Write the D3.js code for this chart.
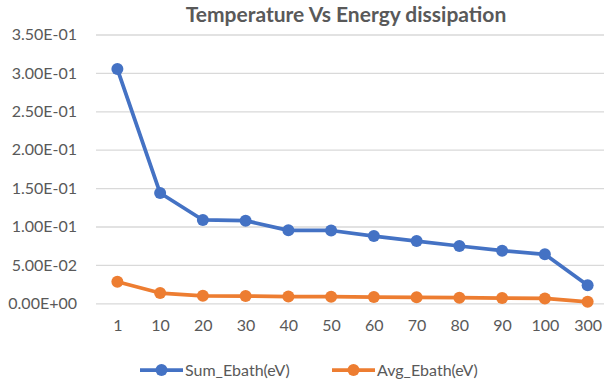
<!DOCTYPE html>
<html>
<head>
<meta charset="utf-8">
<script src="https://cdn.jsdelivr.net/npm/d3@7"></script>
<style>
  html, body { margin: 0; padding: 0; background: #fff; }
  svg { display: block; font-family: Lato, "Open Sans", sans-serif; }
</style>
</head>
<body>
<svg id="chart" width="604" height="382"></svg>
<script>
// Temperature categories (x axis)
const temperatures = ["1", "10", "20", "30", "40", "50", "60", "70", "80", "90", "100", "300"];
// Sum of bath energy per temperature (eV)
const sumEbath = [0.305, 0.1436, 0.1085, 0.1076, 0.0950, 0.0948, 0.0876, 0.0811, 0.0746, 0.0685, 0.0638, 0.0234];
// Average bath energy per temperature (eV)
const avgEbath = [0.0281, 0.0134, 0.0097, 0.0095, 0.0088, 0.0086, 0.0082, 0.0078, 0.0073, 0.0068, 0.0064, 0.0019];
// Y axis tick values
const yTicks = [0, 0.05, 0.10, 0.15, 0.20, 0.25, 0.30, 0.35];

const seriesList = [
  { name: "Sum_Ebath(eV)", values: sumEbath, color: "#4472C4" },
  { name: "Avg_Ebath(eV)", values: avgEbath, color: "#ED7D31" }
];

const svg = d3.select("#chart");
const textColor = "#595959";

const x = d3.scalePoint().domain(temperatures).range([96, 609]).padding(0.5);
const y = d3.scaleLinear().domain([0, 0.35]).range([303.3, 34.5]);

// Excel-style scientific label, e.g. 3.50E-01
function sci(v) {
  if (v === 0) return "0.00E+00";
  const e = Math.floor(Math.log10(Math.abs(v)) + 1e-9);
  const m = v / Math.pow(10, e);
  const sign = e < 0 ? "-" : "+";
  return m.toFixed(2) + "E" + sign + String(Math.abs(e)).padStart(2, "0");
}

// Title
svg.append("text")
  .attr("x", 346).attr("y", 22)
  .attr("text-anchor", "middle")
  .attr("font-size", 21).attr("font-weight", "bold")
  .attr("fill", textColor)
  .text("Temperature Vs Energy dissipation");

// Horizontal gridlines + y labels
const yAxis = d3.axisLeft(y).tickValues(yTicks).tickFormat(sci).tickSize(-(609 - 96)).tickPadding(19);
const gy = svg.append("g").attr("transform", "translate(96,0)").call(yAxis);
gy.select(".domain").remove();
gy.selectAll(".tick line").attr("stroke", "#d9d9d9").attr("stroke-width", 1.3);
gy.selectAll(".tick text").attr("fill", textColor).attr("font-size", 16).attr("font-family", "Lato, sans-serif");

// X labels
const xAxis = d3.axisBottom(x).tickSize(0).tickPadding(16);
const gx = svg.append("g").attr("transform", "translate(0,303.3)").call(xAxis);
gx.select(".domain").remove();
gx.selectAll(".tick text").attr("fill", textColor).attr("font-size", 16).attr("font-family", "Lato, sans-serif");

// Series lines and markers
const line = d3.line().x((d, i) => x(temperatures[i])).y(d => y(d));
seriesList.forEach(s => {
  svg.append("path")
    .datum(s.values)
    .attr("d", line)
    .attr("fill", "none")
    .attr("stroke", s.color)
    .attr("stroke-width", 3.75)
    .attr("stroke-linejoin", "round");
  svg.append("g").selectAll("circle")
    .data(s.values)
    .join("circle")
    .attr("cx", (d, i) => x(temperatures[i]))
    .attr("cy", d => y(d))
    .attr("r", 6)
    .attr("fill", s.color);
});

// Legend
const legendPos = [140, 332];
const legend = svg.append("g").attr("transform", "translate(0,370)");
seriesList.forEach((s, i) => {
  const g = legend.append("g").attr("transform", `translate(${legendPos[i]},0)`);
  g.append("line").attr("x1", 0).attr("x2", 43).attr("y1", 0).attr("y2", 0)
    .attr("stroke", s.color).attr("stroke-width", 3.75);
  g.append("circle").attr("cx", 21.5).attr("cy", 0).attr("r", 6).attr("fill", s.color);
  g.append("text").attr("x", 45).attr("y", 0).attr("dy", "0.35em")
    .attr("font-size", 16).attr("fill", textColor).text(s.name);
});
</script>
</body>
</html>
